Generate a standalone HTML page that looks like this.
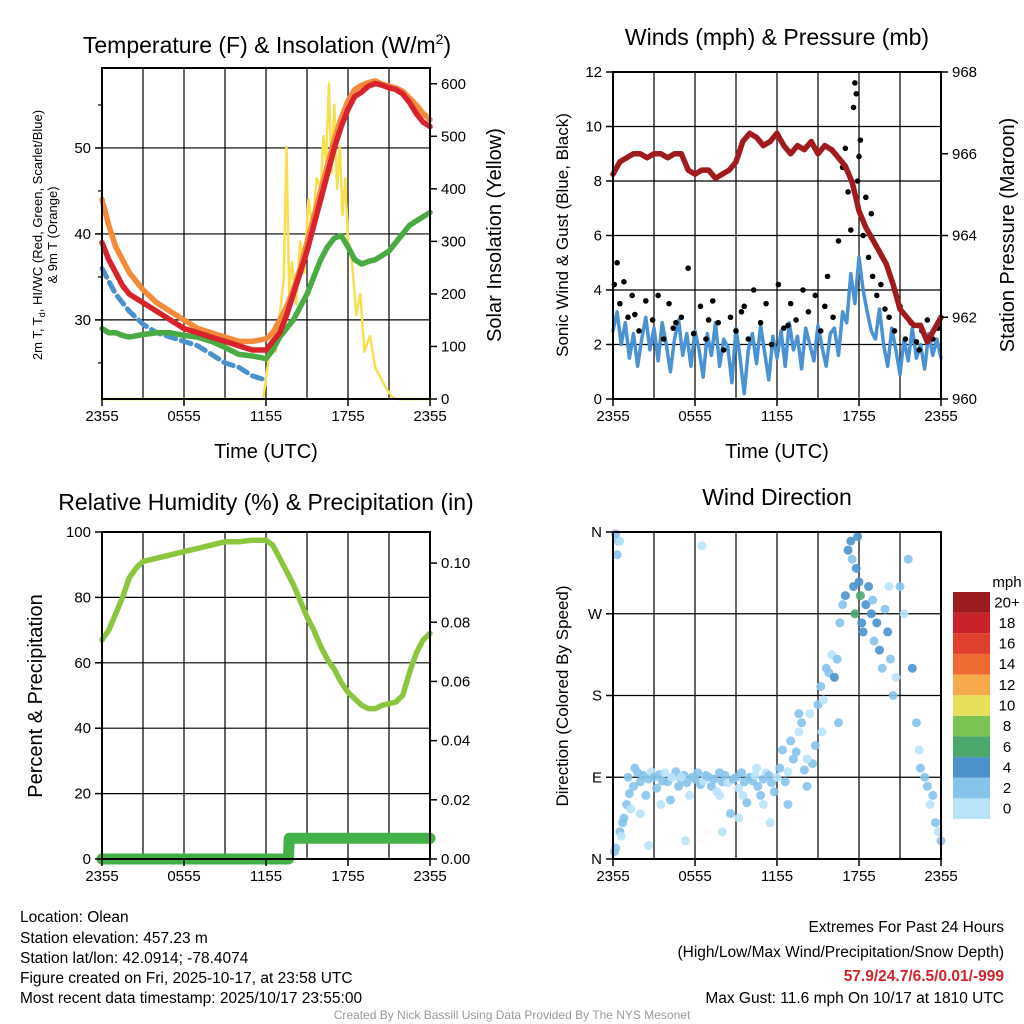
<!DOCTYPE html>
<html><head><meta charset="utf-8"><style>
body{margin:0;background:#fff}
svg{display:block;font-family:"Liberation Sans",Arial,sans-serif}
</style></head><body>
<svg id="s" width="1024" height="1024" viewBox="0 0 1024 1024" xmlns="http://www.w3.org/2000/svg">
<g id="grid"></g>
<g id="marks"></g>
<g id="frames"></g>
<g id="txt" fill="#000">
<text x="267" y="53" font-size="23" text-anchor="middle">Temperature (F) &amp; Insolation (W/m<tspan font-size="14" dy="-9">2</tspan><tspan dy="9">)</tspan></text>
<text x="777" y="45" font-size="23" text-anchor="middle">Winds (mph) &amp; Pressure (mb)</text>
<text x="266" y="510" font-size="23" text-anchor="middle">Relative Humidity (%) &amp; Precipitation (in)</text>
<text x="777" y="505" font-size="23" text-anchor="middle">Wind Direction</text>
<text transform="translate(42,235) rotate(-90)" font-size="13" text-anchor="middle">2m T, T<tspan font-size="9" dy="3">d</tspan><tspan dy="-3">, HI/WC (Red, Green, Scarlet/Blue)</tspan></text>
<text transform="translate(57,235) rotate(-90)" font-size="13" text-anchor="middle">&amp; 9m T (Orange)</text>
<text transform="translate(501,235) rotate(-90)" font-size="20" text-anchor="middle">Solar Insolation (Yellow)</text>
<text x="266" y="458" font-size="20" text-anchor="middle">Time (UTC)</text>
<text x="777" y="458" font-size="20" text-anchor="middle">Time (UTC)</text>
<text transform="translate(568,235) rotate(-90)" font-size="17" text-anchor="middle">Sonic Wind &amp; Gust (Blue, Black)</text>
<text transform="translate(1014,235) rotate(-90)" font-size="20" text-anchor="middle">Station Pressure (Maroon)</text>
<text transform="translate(42,696) rotate(-90)" font-size="20" text-anchor="middle">Percent &amp; Precipitation</text>
<text transform="translate(568,696) rotate(-90)" font-size="17" text-anchor="middle">Direction (Colored By Speed)</text>
<g font-size="15.5">
<text x="20" y="922">Location: Olean</text>
<text x="20" y="943">Station elevation: 457.23 m</text>
<text x="20" y="963">Station lat/lon: 42.0914; -78.4074</text>
<text x="20" y="983">Figure created on Fri, 2025-10-17, at 23:58 UTC</text>
<text x="20" y="1003">Most recent data timestamp: 2025/10/17 23:55:00</text>
</g>
<g font-size="15.5" text-anchor="end">
<text x="1004" y="932">Extremes For Past 24 Hours</text>
<text x="1004" y="957">(High/Low/Max Wind/Precipitation/Snow Depth)</text>
<text x="1004" y="981" fill="#d0232a" font-weight="bold">57.9/24.7/6.5/0.01/-999</text>
<text x="1004" y="1003">Max Gust: 11.6 mph On 10/17 at 1810 UTC</text>
</g>
<text x="512" y="1019" font-size="12" fill="#999" text-anchor="middle">Created By Nick Bassill Using Data Provided By The NYS Mesonet</text>
</g>
</svg>
<script>
// ---- data ----
const xTickLabels=["2355","0555","1155","1755","2355"];
const tempTimes=[0,0.5,1,1.5,2,3,4,5,6,7,8,9,10,11,12,12.5,13,13.5,14,14.5,15,15.5,16,16.5,17,17.5,18,18.5,19,19.5,20,20.5,21,21.5,22,22.5,23,23.5,24];
const airTemp=[39,37,35.5,34,33,32,31,30,29,28.5,28,27.5,27,26.5,26.5,27.5,28.5,30.5,33,35.5,38,41,44,47,50,52.5,54.5,56,56.5,57.2,57.5,57.3,57,56.8,56.3,55.3,54,53,52.5];
const temp9m=[44,41,38.5,37,35.5,33.5,32,31,30,29,28.5,28,27.5,27.5,27.8,28.5,30,31.5,33.5,36,39,42,45,48,51,53.5,55.5,56.8,57.3,57.6,57.8,57.4,57.2,57,56.6,55.8,55,54,53.3];
const dewPoint=[29,28.5,28.5,28.2,28,28.3,28.5,28.5,28.2,28,27.5,26.8,26,25.8,25.5,26.5,28,29,30,31.5,33,35,37,38.5,39.5,39.8,38.5,37,36.5,36.8,37,37.5,38,39,40,41,41.5,42,42.5];
const windChill=[36,34.5,33,32,31,29.5,28.5,28,27.5,27,26,25,24.5,23.5,23,null,28,29,null,null,null,null,null,null,null,null,null,null,null,null,null,null,null,null,null,null,null,null,null];
const solarTimes=[0,11.8,12.1,12.4,12.7,13.0,13.3,13.5,13.7,13.9,14.2,14.5,14.8,15.1,15.4,15.7,16.0,16.2,16.4,16.6,16.8,17.0,17.2,17.4,17.6,17.8,18.0,18.3,18.6,18.9,19.2,19.6,20.0,20.4,20.8,21.2,21.6,24];
const solar=[0,0,60,120,90,160,230,480,200,260,180,300,240,380,330,420,400,500,450,600,430,560,400,480,350,420,300,260,160,200,90,120,60,40,20,5,0,0];
const windTimes=[0,0.3,0.6,0.9,1.2,1.5,1.8,2.1,2.4,2.7,3,3.3,3.6,3.9,4.2,4.5,4.8,5.1,5.4,5.7,6,6.3,6.6,6.9,7.2,7.5,7.8,8.1,8.4,8.7,9,9.3,9.6,9.9,10.2,10.5,10.8,11.1,11.4,11.7,12,12.3,12.6,12.9,13.2,13.5,13.8,14.1,14.4,14.7,15,15.3,15.6,15.9,16.2,16.5,16.8,17.1,17.4,17.7,18,18.3,18.6,18.9,19.2,19.5,19.8,20.1,20.4,20.7,21,21.3,21.6,21.9,22.2,22.5,22.8,23.1,23.4,23.7,24];
const windSpeed=[2.5,3.2,2,2.8,1.5,2.4,1.2,2.2,3,1.8,2.6,1.4,2.8,2,1,2.2,2.9,1.6,2.4,1.2,2.5,1.8,0.8,2.4,1.6,2.8,1.2,2.2,1.9,0.6,2.6,1.5,0.2,1.8,2.4,1.3,2.7,1.7,0.7,2.3,1.5,2.5,1.2,2.8,1.8,2.3,1.1,2.6,2,1.4,2.7,1.9,1.2,2.4,2.6,1.6,3.2,2.8,4.6,3.5,5.2,4,3.2,2.5,2.2,3.3,2,1.2,2.6,1.8,0.9,2.2,1.4,2.6,1.5,2,1.1,2.4,1.6,2.2,1.5];
const gustTimes=[0.1,0.3,0.5,0.8,1.1,1.4,1.9,2.4,2.9,3.3,3.7,4.1,4.6,5.0,5.5,5.9,6.4,6.8,7.3,7.7,8.1,8.6,9.0,9.4,9.9,10.3,10.8,11.2,11.6,12.1,12.5,13.0,13.4,13.9,14.3,14.8,15.2,15.7,16.1,16.5,16.8,17.0,17.2,17.4,17.6,17.7,17.9,18.1,18.3,18.5,18.7,19.0,19.3,19.6,19.9,20.2,20.6,21.0,21.4,21.8,22.2,22.6,23.0,23.4,23.8,1.6,4.4,7.0,9.6,12.8,15.5,17.8,18.0,18.9,20.8,22.4];
const gustSpeed=[4.2,5,3.5,4.3,3,3.8,2.5,3.6,2.9,3.8,2.2,3.5,2.8,3,4.8,2.4,3.4,2.2,3.6,2.8,1.8,3,2.5,3.2,2.2,4,2.8,3.5,2,4.2,2.6,3.5,2.9,4,3.2,3.8,2.5,4.5,3,5.8,8.5,9.2,7.6,6.2,10.7,11.6,8,9.5,6,7.4,5.2,4.5,3.8,4.2,3.3,3,2.5,3.4,2.2,2.8,2.1,2.5,2.9,2.2,2.6,3.1,2.6,2.9,3.4,2.7,3.4,11.2,8.9,6.8,3.7,1.8];
const pressTimes=[0,0.5,1,1.5,2,2.5,3,3.5,4,4.5,5,5.5,6,6.5,7,7.5,8,8.5,9,9.5,10,10.5,11,11.5,12,12.5,13,13.5,14,14.5,15,15.5,16,16.5,17,17.5,18,18.5,19,19.5,20,20.5,21,21.5,22,22.5,23,23.5,24];
const pressure=[965.5,965.8,965.9,966.0,966.0,965.9,966.0,966.0,965.9,966.0,966.0,965.6,965.5,965.6,965.6,965.4,965.5,965.6,965.8,966.3,966.5,966.4,966.2,966.3,966.5,966.2,966.0,966.2,966.1,966.3,966.0,966.2,966.1,965.9,965.7,965.3,964.6,964.2,963.9,963.6,963.3,962.8,962.2,962.0,961.8,961.8,961.4,961.7,962.0];
const rhTimes=[0,0.5,1,1.5,2,2.5,3,4,5,6,7,8,9,10,11,12,12.5,13,13.5,14,14.5,15,15.5,16,16.5,17,17.5,18,18.5,19,19.5,20,20.5,21,21.5,22,22.5,23,23.5,24];
const rh=[67,70,75,80,86,89,91,92,93,94,95,96,97,97,97.5,97.5,96,92,88,84,79,74,70,65,61,58,54,51,49,47,46,46,47,47.5,48,50,57,63,67,69];
const precipTimes=[0,13.65,13.7,24];
const precip=[0,0,0.007,0.007];
const dirTimes=[0.1,0.2,0.3,0.4,0.5,0.6,0.7,0.8,1.0,1.1,1.2,1.3,1.5,1.6,1.8,2.0,2.2,2.4,2.6,2.8,3.0,3.2,3.4,3.6,3.8,4.0,4.2,4.4,4.6,4.8,5.0,5.2,5.4,5.6,5.8,6.0,6.2,6.4,6.6,6.8,7.0,7.2,7.4,7.6,7.8,8.0,8.2,8.4,8.6,8.8,9.0,9.2,9.4,9.6,9.8,10.0,10.2,10.4,10.6,10.8,11.0,11.2,11.4,11.6,11.8,12.0,12.2,12.4,12.6,12.8,13.0,13.2,13.4,13.6,13.8,14.0,14.2,14.4,14.6,14.8,15.0,15.2,15.4,15.6,15.8,16.0,16.2,16.4,16.6,16.8,17.0,17.2,17.4,17.5,17.6,17.7,17.8,17.9,18.0,18.1,18.2,18.3,18.5,18.7,18.9,19.1,19.3,19.5,19.7,19.9,20.1,20.3,20.5,20.7,21.0,21.3,21.6,21.9,22.2,22.5,22.8,23.0,23.2,23.4,23.6,23.8,24.0,0.5,2.0,3.5,5.0,6.5,8.0,9.5,10.5,11.5,12.8,14.2,15.3,16.5,19.0,20.2,22.4,0.2,2.6,4.3,5.3,7.8,9.2,11.0,13.6];
const dirDeg=[8,12,335,350,30,25,40,45,60,90,72,55,80,100,95,85,92,70,88,96,90,78,93,86,95,85,65,90,96,80,88,92,84,70,90,88,95,82,86,92,90,80,88,74,95,85,92,84,50,88,90,78,95,85,62,90,86,92,80,70,88,95,92,84,74,90,100,120,85,96,130,110,118,140,150,98,80,160,105,125,170,190,175,210,205,225,200,220,260,280,290,340,350,330,300,270,320,355,305,290,260,250,280,300,270,240,260,230,210,275,250,220,180,200,300,270,330,210,150,100,90,80,60,70,40,30,20,350,50,60,90,345,30,70,100,40,60,110,140,150,285,300,120,358,15,90,20,70,45,60,160];
const dirSpeed=[3,2,2,2,2,1,3,2,3,2,2,1,3,2,2,3,3,2,2,1,3,2,3,2,1,2,3,1,2,3,2,2,3,1,2,2,3,2,1,2,3,2,2,1,2,3,2,1,2,2,3,1,2,2,3,2,2,1,3,2,2,1,3,2,2,1,3,2,3,1,2,3,2,1,2,3,2,1,2,3,3,2,1,3,2,1,4,3,3,3,4,4,5,3,5,6,4,4,5,6,4,5,4,4,5,3,4,4,3,2,4,3,3,1,3,1,2,4,3,2,3,3,1,3,2,1,3,1,1,1,1,1,1,1,1,1,2,1,1,2,3,1,1,2,1,1,1,1,1,1,2];
const cbLabels=["0","2","4","6","8","10","12","14","16","18","20+"];
const cbColors=["#b9e3f9","#86c3ea","#4b92cd","#4aa86c","#7bc352","#e7df5c","#f7aa4b","#ef6b33","#e0412e","#c8232b","#9c1b1f"];

// ---- axes ----
const NS="http://www.w3.org/2000/svg";
const P1={x0:102,x1:430,y0:68,y1:399},P2={x0:613,x1:941,y0:72,y1:399},P3={x0:102,x1:430,y0:532,y1:859},P4={x0:613,x1:941,y0:532,y1:859};
const xs=(p,h)=>p.x0+h*(p.x1-p.x0)/24;
const lin=(p,lo,hi)=>v=>p.y1-(v-lo)/(hi-lo)*(p.y1-p.y0);
const yT=lin(P1,20.8,59.3), ySol=lin(P1,0,630), yW=lin(P2,0,12), yP=lin(P2,960,968);
const yRH=lin(P3,0,100), yPr=lin(P3,0,0.1105), yDir=lin(P4,0,360);
const G=document.getElementById('grid'),M=document.getElementById('marks'),F=document.getElementById('frames');
function el(par,tag,at){const e=document.createElementNS(NS,tag);for(const k in at)e.setAttribute(k,at[k]);par.appendChild(e);return e;}
function line(par,x1,y1,x2,y2,st,w){return el(par,'line',{x1,y1,x2,y2,stroke:st,'stroke-width':w});}
function txt(par,x,y,s,anchor,size){const t=el(par,'text',{x,y,'font-size':size||15,'text-anchor':anchor||'middle'});t.textContent=s;return t;}

function panel(p,name,leftTicks,yl,leftFmt,rightTicks,yr,rightFmt,hgrid){
  for(let i=0;i<=8;i++){const x=xs(p,i*3);line(G,x,p.y0,x,p.y1,'#000',1.2);}
  hgrid.forEach(v=>{const y=yl(v);line(G,p.x0,y,p.x1,y,'#000',1.2);});
  el(F,'rect',{x:p.x0,y:p.y0,width:p.x1-p.x0,height:p.y1-p.y0,fill:'none',stroke:'#000','stroke-width':2});
  xTickLabels.forEach((s,i)=>{const x=xs(p,i*6);line(F,x,p.y1,x,p.y1+7,'#000',1.5);const t=txt(F,x,p.y1+22,s,'middle',15);
    
    });
  leftTicks.forEach(v=>{const y=yl(v);line(F,p.x0-7,y,p.x0,y,'#000',1.5);const t=txt(F,p.x0-11,y+5,leftFmt(v),'end',15);
    
    });
  rightTicks.forEach(v=>{const y=yr(v);line(F,p.x1,y,p.x1+7,y,'#000',1.5);const t=txt(F,p.x1+11,y+5,rightFmt(v),'start',15);
    
    });
}
panel(P1,'temperature',[30,40,50],yT,v=>v,[0,100,200,300,400,500,600],ySol,v=>v,[30,40,50]);
[25,35,45,55].forEach(v=>line(F,P1.x0-4,yT(v),P1.x0,yT(v),'#000',1.2));
panel(P2,'wind',[0,2,4,6,8,10,12],yW,v=>v,[960,962,964,966,968],yP,v=>v,[2,4,6,8,10]);
panel(P3,'humidity',[0,20,40,60,80,100],yRH,v=>v,[0,0.02,0.04,0.06,0.08,0.1],yPr,v=>v.toFixed(2),[20,40,60,80]);
panel(P4,'direction',[0,90,180,270,360],yDir,v=>["N","E","S","W","N"][v/90],[],yDir,v=>v,[90,180,270]);

function path(p,ts,vs,ys,color,w,name,dash){
  let d='',pen=false;
  ts.forEach((t,i)=>{const v=vs[i];if(v==null){pen=false;return;}d+=(pen?'L':'M')+xs(p,t).toFixed(1)+' '+ys(v).toFixed(1);pen=true;});
  const e=el(M,'path',{d,fill:'none',stroke:color,'stroke-width':w,'stroke-linejoin':'round','stroke-linecap':'round'});
  if(dash)e.setAttribute('stroke-dasharray',dash);
  
  
  return e;
}
path(P1,solarTimes,solar,ySol,'#f7e04f',2.5,'solar-insolation-line');
path(P1,tempTimes,windChill,yT,'#4b92cd',5,'wind-chill-line','10 6');
path(P1,tempTimes,dewPoint,yT,'#4aaa44',5.5,'dewpoint-line');
path(P1,tempTimes,temp9m,yT,'#f58a3a',5.5,'temp-9m-line');
path(P1,tempTimes,airTemp,yT,'#d8222c',5.5,'temp-2m-line');

path(P2,windTimes,windSpeed,yW,'#4b92d2',3.5,'sonic-wind-line');
gustTimes.forEach((t,i)=>{const c=el(M,'circle',{cx:xs(P2,t),cy:yW(gustSpeed[i]),r:2.8,fill:'#000'});
  
  });
path(P2,pressTimes,pressure,yP,'#a01a1e',5.5,'pressure-line');

path(P3,rhTimes,rh,yRH,'#8cc63f',5.5,'relative-humidity-line');
path(P3,precipTimes,precip,yPr,'#44b048',11,'precipitation-line');

dirTimes.forEach((t,i)=>{const k=Math.max(0,Math.min(10,Math.floor((dirSpeed[i]||0)/2)));
  const c=el(M,'circle',{cx:xs(P4,t),cy:yDir(dirDeg[i]),r:4.5,fill:cbColors[k],'fill-opacity':0.9});
  
  });

// colorbar
const cb=el(F,'g',{});


const cbTop=592,cbH=227,cw=cbH/cbColors.length;
cbColors.forEach((c,i)=>{const y=cbTop+cbH-(i+1)*cw;el(cb,'rect',{x:953,y,width:37,height:cw,fill:c});
  const t=txt(cb,1007,y+cw/2+5,cbLabels[i],'middle',15);
  
  });
const u=txt(cb,1007,587,'mph','middle',15);


</script>
</body></html>
